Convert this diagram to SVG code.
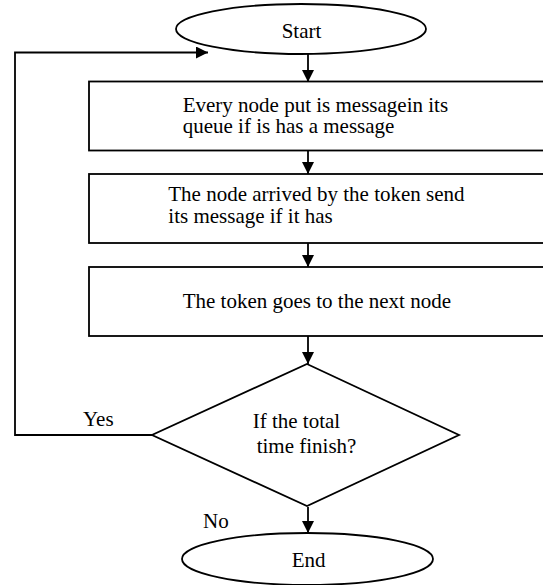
<svg xmlns="http://www.w3.org/2000/svg" width="543" height="585" viewBox="0 0 543 585">
<style>
.s{fill:#fff;stroke:#000;stroke-width:1.8}
.t{font-family:"Liberation Serif","Times New Roman",serif;font-size:21px;fill:#000}
.c{fill:none;stroke:#000;stroke-width:1.8}
</style>
<defs>
<marker id="ah" markerWidth="12" markerHeight="12" viewBox="0 0 12 12" refX="12" refY="6" orient="auto" markerUnits="userSpaceOnUse">
<path d="M0,0 L12,6 L0,12 Z" fill="#000"/>
</marker>
</defs>
<g id="connectors">
<line class="c" x1="308" y1="54" x2="308" y2="82" marker-end="url(#ah)"/>
<line class="c" x1="308" y1="151" x2="308" y2="174" marker-end="url(#ah)"/>
<line class="c" x1="308" y1="243" x2="308" y2="267" marker-end="url(#ah)"/>
<line class="c" x1="308" y1="336" x2="308" y2="364" marker-end="url(#ah)"/>
<line class="c" x1="308" y1="507" x2="308" y2="533" marker-end="url(#ah)"/>
<polyline class="c" points="152,435 15,435 15,52.5 208,52.5" marker-end="url(#ah)"/>
<text class="t" x="83" y="426">Yes</text>
<text class="t" x="203" y="528">No</text>
</g>
<g id="start">
<ellipse class="s" cx="301" cy="29" rx="125" ry="25"/>
<text class="t" x="281.7" y="38">Start</text>
</g>
<g id="step1">
<rect class="s" x="89" y="81.5" width="470" height="69"/>
<text class="t" x="182.7" y="111.5">Every node put is messagein its</text>
<text class="t" x="182.7" y="133.3">queue if is has a message</text>
</g>
<g id="step2">
<rect class="s" x="89" y="174" width="470" height="69"/>
<text class="t" x="168.3" y="201">The node arrived by the token send</text>
<text class="t" x="168.3" y="223">its message if it has</text>
</g>
<g id="step3">
<rect class="s" x="89" y="267" width="470" height="69"/>
<text class="t" x="182.7" y="308">The token goes to the next node</text>
</g>
<g id="decision">
<polygon class="s" points="307,364 459,435 307,506 152,435"/>
<text class="t" x="252.7" y="428">If the total</text>
<text class="t" x="256.7" y="453">time finish?</text>
</g>
<g id="end">
<ellipse class="s" cx="307.5" cy="559" rx="125.5" ry="26"/>
<text class="t" x="291.7" y="567">End</text>
</g>
</svg>
